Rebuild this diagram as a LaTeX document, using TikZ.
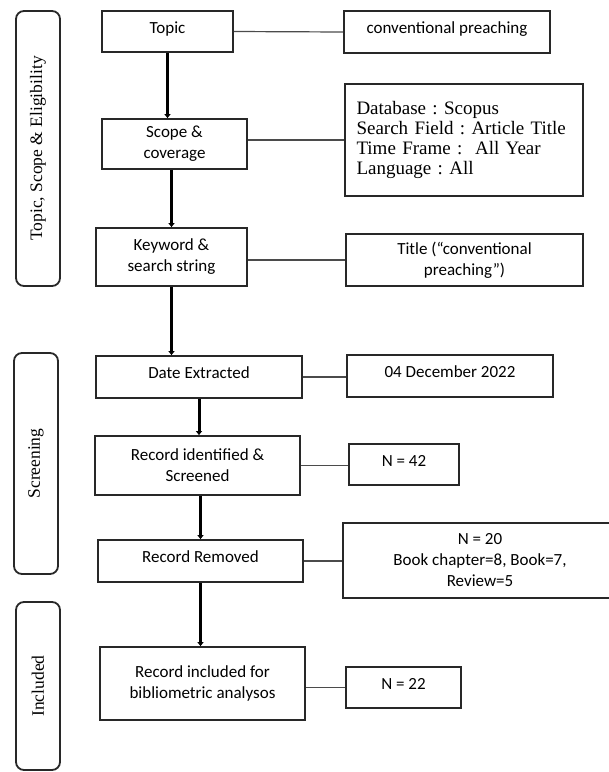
\documentclass[tikz,border=0pt]{standalone}
\usepackage{fontspec}
\setmainfont{Carlito}
\newfontfamily\serifface{Liberation Serif}
\usepackage{xcolor}
\usepackage{tikz}
\usetikzlibrary{arrows.meta, positioning}
\definecolor{boxline}{RGB}{40,40,40}
\definecolor{linkline}{RGB}{75,75,75}

\tikzset{
    stage/.style={draw=boxline, line width=1.8pt, align=center, inner sep=2pt, font=\fontsize{17}{21}\selectfont},
    single/.style={text height=12pt, text depth=9pt},
    phase/.style={draw=boxline, line width=1.8pt, rounded corners=8pt, rotate=90, minimum height=44pt, font=\serifface\fontsize{17.5}{20}\selectfont},
    link/.style={draw=linkline, line width=1.2pt},
    flow/.style={draw=black, line width=3pt, -{Triangle[length=4pt, width=6pt]}}
}

\begin{document}
\begin{tikzpicture}[x=1pt, y=-1pt]
            \useasboundingbox (0,0) rectangle (609,772);

            % phases on the left
            \node (scope_phase) [phase, minimum width=275pt] at (38,148.5) {Topic, Scope \& Eligibility};
            \node (screen_phase) [phase, minimum width=221pt] at (36,463.5) {Screening};
            \node (include_phase) [phase, minimum width=168pt] at (38,686) {Included};

            % steps
            \node (topic_box) [stage, single, minimum width=131pt, minimum height=41pt] at (167.5,31.5) {Topic};
            \node (scope_box) [stage, minimum width=145pt, minimum height=50pt] at (174.5,144) {Scope \&\\ coverage};
            \node (keyword_box) [stage, minimum width=151pt, minimum height=58pt] at (171.5,257) {Keyword \&\\ search string};
            \node (date_box) [stage, single, minimum width=206pt, minimum height=42pt] at (199,377) {Date Extracted};
            \node (record_box) [stage, minimum width=205pt, minimum height=59pt] at (197.5,465.5) {Record identified \&\\ Screened};
            \node (removed_box) [stage, single, minimum width=205pt, minimum height=42pt] at (200.5,561) {Record Removed};
            \node (included_box) [stage, minimum width=205pt, minimum height=73pt] at (202.5,683.5) {Record included for\\ bibliometric analysos};

            % values
            \node (topic_value) [stage, single, minimum width=206pt, minimum height=42pt] at (447,32) {conventional preaching};
            \node (scope_value) [stage, minimum width=238pt, minimum height=112pt, text width=215pt, align=left, font=\serifface\fontsize{19}{20.3}\selectfont\frenchspacing] at (464,140) {Database : Scopus\\ Search Field : Article Title\\ Time Frame :\ \ All Year\\ Language : All};
            \node (keyword_value) [stage, minimum width=237pt, minimum height=52pt] at (464.5,260) {Title (“conventional\\ preaching”)};
            \node (date_value) [stage, single, minimum width=206pt, minimum height=42pt] at (450,376) {04 December 2022};
            \node (record_value) [stage, single, minimum width=110pt, minimum height=41pt] at (404,464.5) {N = 42};
            \node (removed_value) [stage, minimum width=274pt, minimum height=75pt] at (480,560.5) {N = 20\\ Book chapter=8, Book=7,\\ Review=5};
            \node (included_value) [stage, single, minimum width=115pt, minimum height=41pt] at (403.5,687.5) {N = 22};

            % step to value
            \draw [link] (topic_box.east) -- (topic_value.west);
            \draw [link] (scope_value.west -| scope_box.east) -- (scope_value.west);
            \draw [link] (keyword_value.west -| keyword_box.east) -- (keyword_value.west);
            \draw [link] (date_box.east) -- (date_box.east -| date_value.west);
            \draw [link] (record_box.east) -- (record_box.east -| record_value.west);
            \draw [link] (removed_box.east) -- (removed_box.east -| removed_value.west);
            \draw [link] (included_value.west -| included_box.east) -- (included_value.west);

            % step to step
            \draw [flow] (topic_box.south) -- (topic_box.south |- scope_box.north);
            \draw [flow] (keyword_box.north |- scope_box.south) -- (keyword_box.north);
            \draw [flow] (keyword_box.south) -- (keyword_box.south |- date_box.north);
            \draw [flow] (date_box.south) -- (date_box.south |- record_box.north);
            \draw [flow] (removed_box.north |- record_box.south) -- (removed_box.north);
            \draw [flow] (removed_box.south) -- (removed_box.south |- included_box.north);
\end{tikzpicture}
\end{document}
